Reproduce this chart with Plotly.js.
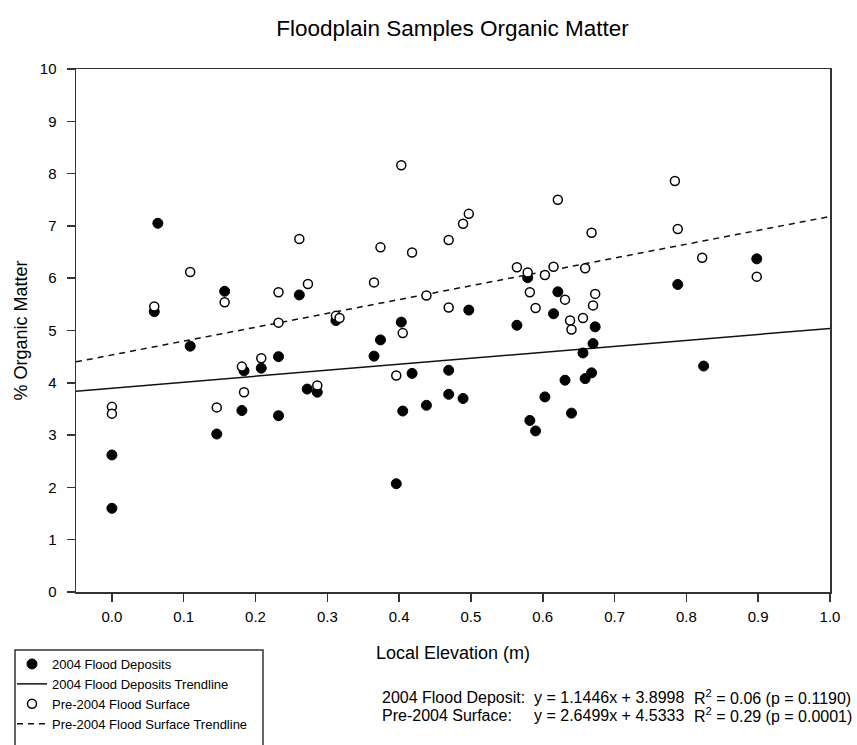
<!DOCTYPE html>
<html>
<head>
<meta charset="utf-8">
<script src="https://cdn.plot.ly/plotly-3.0.1.min.js"></script>
<style>html,body{margin:0;padding:0;background:#fff;}#chart{width:857px;height:745px;}</style>
</head>
<body>
<div id="chart"></div>
<script>
// 2004 Flood Deposits (filled circles)
var depositX = [0.000,0.000,0.064,0.059,0.109,0.146,0.157,0.181,0.184,0.208,0.232,0.232,0.261,0.272,0.286,0.312,0.365,0.374,0.396,0.403,0.405,0.418,0.438,0.469,0.469,0.489,0.497,0.564,0.579,0.582,0.590,0.603,0.615,0.621,0.631,0.640,0.656,0.659,0.668,0.670,0.673,0.788,0.824,0.898];
var depositY = [1.60,2.62,7.05,5.36,4.70,3.02,5.75,3.47,4.23,4.28,4.50,3.37,5.68,3.88,3.82,5.19,4.51,4.82,2.07,5.16,3.46,4.18,3.57,4.24,3.78,3.70,5.39,5.10,6.01,3.28,3.08,3.73,5.32,5.74,4.05,3.42,4.57,4.08,4.19,4.75,5.07,5.88,4.32,6.37];
// Pre-2004 Flood Surface (open circles)
var surfaceX = [0.000,0.000,0.059,0.109,0.146,0.157,0.181,0.184,0.208,0.232,0.232,0.261,0.273,0.286,0.312,0.317,0.365,0.374,0.396,0.403,0.405,0.418,0.438,0.469,0.469,0.489,0.497,0.564,0.579,0.582,0.590,0.603,0.615,0.621,0.631,0.638,0.640,0.656,0.659,0.668,0.670,0.673,0.784,0.788,0.822,0.898];
var surfaceY = [3.54,3.41,5.46,6.12,3.53,5.54,4.31,3.82,4.47,5.73,5.15,6.75,5.89,3.95,5.28,5.24,5.92,6.59,4.14,8.16,4.95,6.49,5.67,6.73,5.44,7.04,7.23,6.21,6.11,5.73,5.43,6.06,6.22,7.50,5.59,5.19,5.02,5.24,6.19,6.87,5.48,5.70,7.86,6.94,6.39,6.03];
// Trendline end points (consistent with the printed equations)
var trendX = [-0.05, 1.0];
var depositTrendY = [3.84, 5.04];
var surfaceTrendY = [4.40, 7.18];
var xTickVals = [0.0,0.1,0.2,0.3,0.4,0.5,0.6,0.7,0.8,0.9,1.0];
var xTickText = ["0.0","0.1","0.2","0.3","0.4","0.5","0.6","0.7","0.8","0.9","1.0"];
var yTickVals = [0,1,2,3,4,5,6,7,8,9,10];
var legendNames = ["2004 Flood Deposits","2004 Flood Deposits Trendline","Pre-2004 Flood Surface","Pre-2004 Flood Surface Trendline"];
var eqLabels = ["2004 Flood Deposit:","Pre-2004 Surface:"];
var eqFormulas = ["y = 1.1446x + 3.8998","y = 2.6499x + 4.5333"];
var eqStats = ["R<sup>2</sup> = 0.06 (p = 0.1190)","R<sup>2</sup> = 0.29 (p = 0.0001)"];

var FONT = "Liberation Sans, Arial, sans-serif";

var traces = [
  {x: trendX, y: depositTrendY, mode: "lines", name: legendNames[1], legendrank: 2,
   line: {color: "#111", width: 1.5, dash: "solid"}, hoverinfo: "skip"},
  {x: trendX, y: surfaceTrendY, mode: "lines", name: legendNames[3], legendrank: 4,
   line: {color: "#111", width: 1.5, dash: "6px,5px"}, hoverinfo: "skip"},
  {x: depositX, y: depositY, mode: "markers", name: legendNames[0], legendrank: 1,
   marker: {symbol: "circle", size: 10, color: "#000", line: {color: "#000", width: 1}}},
  {x: surfaceX, y: surfaceY, mode: "markers", name: legendNames[2], legendrank: 3,
   marker: {symbol: "circle", size: 9, color: "#fff", line: {color: "#000", width: 1.5}}}
];

var annotations = [];
var eqY = [-0.2008, -0.2352];
var EQSIZE = 16;
for (var i = 0; i < 2; i++) {
  annotations.push({xref: "paper", yref: "paper", x: 0.4030, y: eqY[i], xanchor: "left", yanchor: "middle",
    text: eqLabels[i], showarrow: false, font: {family: FONT, size: EQSIZE, color: "#000"}});
  annotations.push({xref: "paper", yref: "paper", x: 0.6050, y: eqY[i], xanchor: "left", yanchor: "middle",
    text: eqFormulas[i], showarrow: false, font: {family: FONT, size: EQSIZE, color: "#000"}});
  annotations.push({xref: "paper", yref: "paper", x: 0.8165, y: eqY[i], xanchor: "left", yanchor: "middle",
    text: eqStats[i], showarrow: false, font: {family: FONT, size: EQSIZE, color: "#000"}});
}

var layout = {
  width: 857, height: 745,
  paper_bgcolor: "#fff", plot_bgcolor: "#fff",
  margin: {l: 76, r: 27, t: 69, b: 153, autoexpand: false},
  font: {family: FONT, color: "#000"},
  title: {text: "Floodplain Samples Organic Matter", x: 0.528, xanchor: "center", y: 0.962, yanchor: "middle",
          font: {family: FONT, size: 22.5, color: "#000"}},
  xaxis: {range: [-0.05, 1.0], tickmode: "array", tickvals: xTickVals, ticktext: xTickText,
          showgrid: false, zeroline: false, showline: true, mirror: true, linecolor: "#333", linewidth: 1.5,
          ticks: "outside", ticklen: 8, tickwidth: 1.5, tickcolor: "#333", ticklabelstandoff: 2,
          tickfont: {family: FONT, size: 15, color: "#000"}, automargin: false,
          title: {text: "Local Elevation (m)", font: {family: FONT, size: 18, color: "#000"}, standoff: 23}},
  yaxis: {range: [0, 10], tickmode: "array", tickvals: yTickVals,
          showgrid: false, zeroline: false, showline: true, mirror: true, linecolor: "#333", linewidth: 1.5,
          ticks: "outside", ticklen: 8, tickwidth: 1.5, tickcolor: "#333", ticklabelstandoff: 7,
          tickfont: {family: FONT, size: 15, color: "#000"}, automargin: false,
          title: {text: "% Organic Matter", font: {family: FONT, size: 18, color: "#000"}, standoff: 7}},
  showlegend: true,
  legend: {x: -0.0849, y: -0.1090, xanchor: "left", yanchor: "top", bgcolor: "rgba(0,0,0,0)",
           borderwidth: 0, font: {family: FONT, size: 13, color: "#000"}, tracegroupgap: 0, itemwidth: 30},
  shapes: [{type: "rect", xref: "paper", yref: "paper", x0: -0.0809, x1: 0.2480, y0: -0.1109, y1: -0.40,
            line: {color: "#333", width: 1.5}, fillcolor: "rgba(0,0,0,0)"}],
  annotations: annotations
};

Plotly.newPlot("chart", traces, layout, {displayModeBar: false, staticPlot: true});
</script>
</body>
</html>
